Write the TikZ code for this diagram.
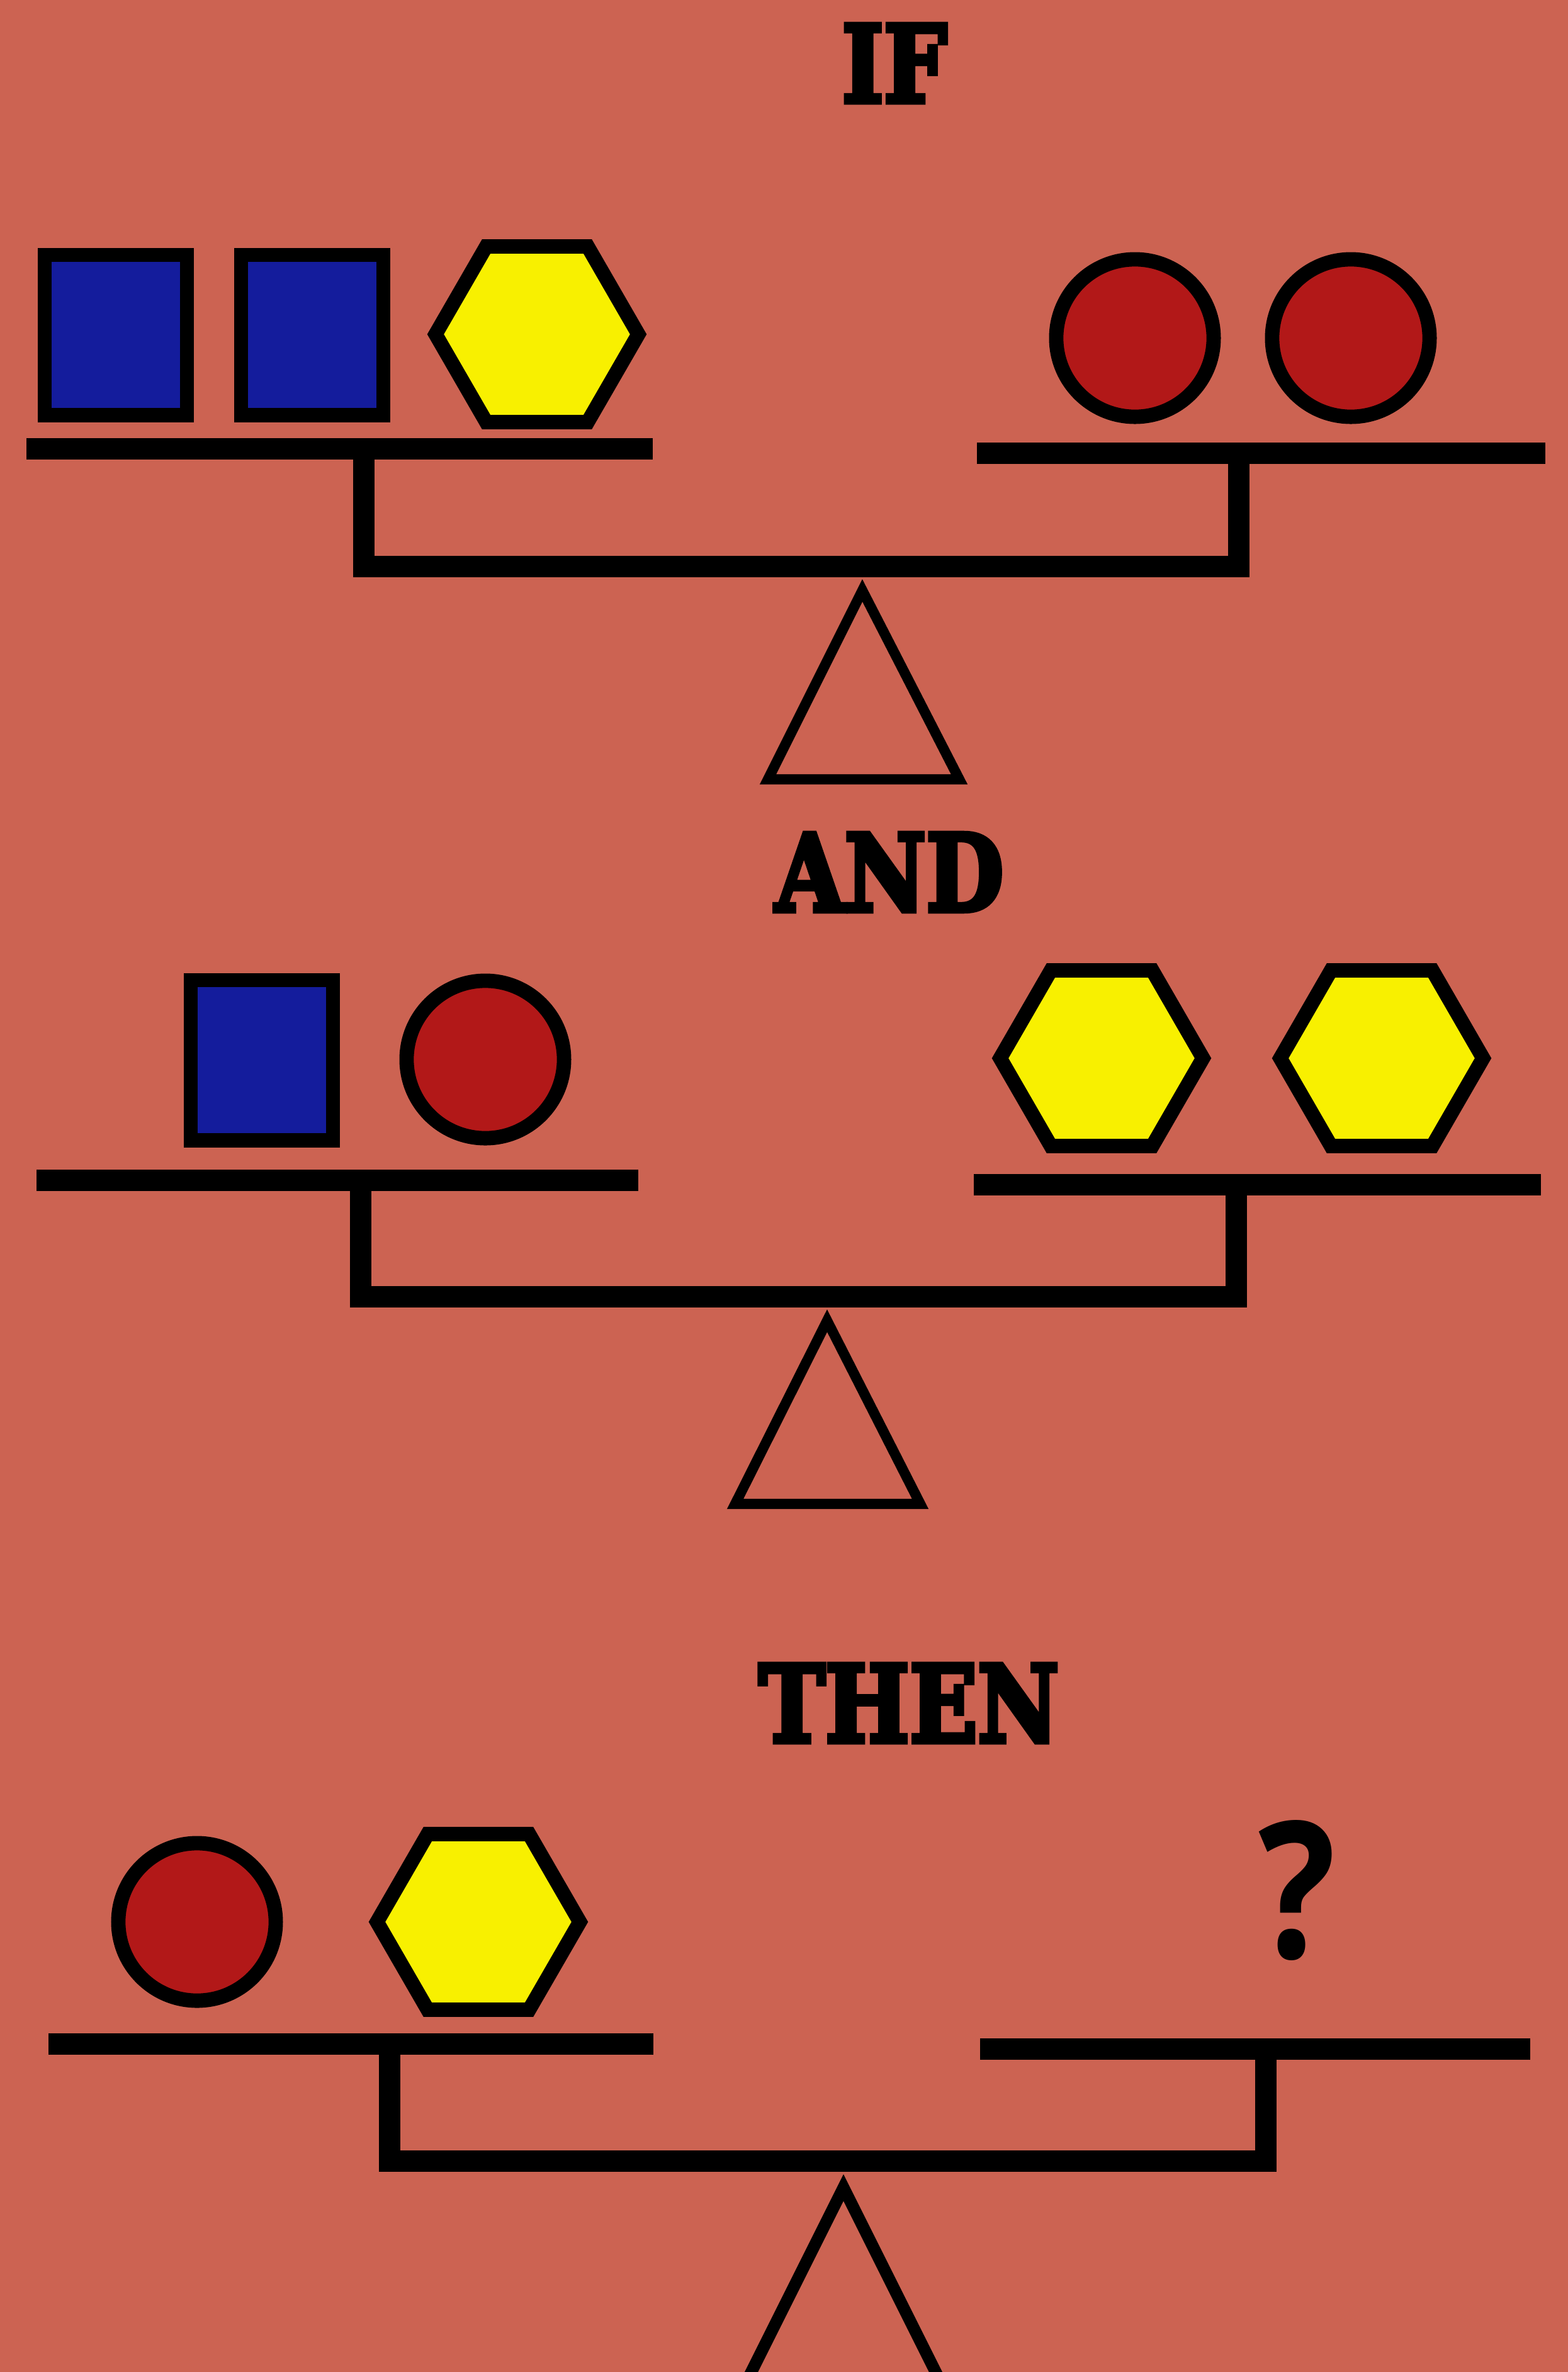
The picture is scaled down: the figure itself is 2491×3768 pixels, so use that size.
\documentclass[tikz,border=0pt]{standalone}
\usepackage{fontspec}
\usepackage{graphicx}
\usepackage{tikz}
\usetikzlibrary{shapes.geometric}
\newfontfamily\headfont{DejaVu Serif}[UprightFont=* Bold,UprightFeatures={FakeBold=5}]
\newfontfamily\markfont{Open Sans}
\definecolor{clay}{RGB}{204,99,82}
\definecolor{cube}{RGB}{20,28,156}
\definecolor{ball}{RGB}{178,24,24}
\definecolor{hexa}{RGB}{248,240,0}

\begin{document}
\begin{tikzpicture}[x=0.01cm,y=-0.01cm,
sq/.style={draw,fill=cube,line width=6.5pt,minimum width=2.26cm,minimum height=2.54cm,inner sep=0pt},
ci/.style={draw,circle,fill=ball,line width=6.5pt,minimum size=2.5cm,inner sep=0pt},
hx/.style={draw,regular polygon,regular polygon sides=6,fill=hexa,line width=6.5pt,minimum size=3.22cm,inner sep=0pt},
bar/.style={line width=9.7pt},
post/.style={line width=9.7pt,line cap=rect},
tri/.style={line width=4.6pt},
head/.style={font=\headfont\fontsize{48}{48}\selectfont,anchor=base,inner sep=0pt}]
\useasboundingbox (0,0) rectangle (2491,3768);
\clip (0,0) rectangle (2491,3768);
\fill[clay] (0,0) rectangle (2491,3768);
% if
\node[head](if) at (1421,162){\scalebox{0.84}[1]{IF}};
\node[sq](b1) at (184,532){};
\node[sq](b2) at (496,532){};
\node[hx](y1) at (853,531){};
\node[ci](r1) at (1803,537){};
\node[ci](r2) at (2146,537){};
\draw[bar](42,713)--(1037,713);\draw[bar](1552,720)--(2455,720);
\draw[post](578,713)--(578,900)--(1968,900)--(1968,720);
\draw[tri](1370,938)--(1220,1238)--(1524,1238)--cycle;
% and
\node[head](and) at (1413,1447){\scalebox{0.84}[1]{AND}};
\node[sq](b3) at (416,1684){};
\node[ci](r3) at (771,1683){};
\node[hx](y2) at (1750,1681){};
\node[hx](y3) at (2195,1681){};
\draw[bar](58,1875)--(1014,1875);\draw[bar](1547,1882)--(2448,1882);
\draw[post](573,1875)--(573,2060)--(1964,2060)--(1964,1882);
\draw[tri](1314,2098)--(1168,2389)--(1462,2389)--cycle;
% then
\node[head](then) at (1444,2767){\scalebox{0.84}[1]{THEN}};
\node[ci](r4) at (313,3053){};
\node[hx](y4) at (760,3053){};
\node[font=\markfont\bfseries\fontsize{86}{86}\selectfont,anchor=base,inner sep=0pt](qm) at (2061,3110){\scalebox{0.85}[1]{?}};
\draw[bar](77,3247)--(1038,3247);\draw[bar](1557,3255)--(2431,3255);
\draw[post](619,3247)--(619,3433)--(2011,3433)--(2011,3255);
\draw[tri,line width=5.4pt](1340,3475)--(1180,3795)--(1500,3795)--cycle;
\end{tikzpicture}
\end{document}
